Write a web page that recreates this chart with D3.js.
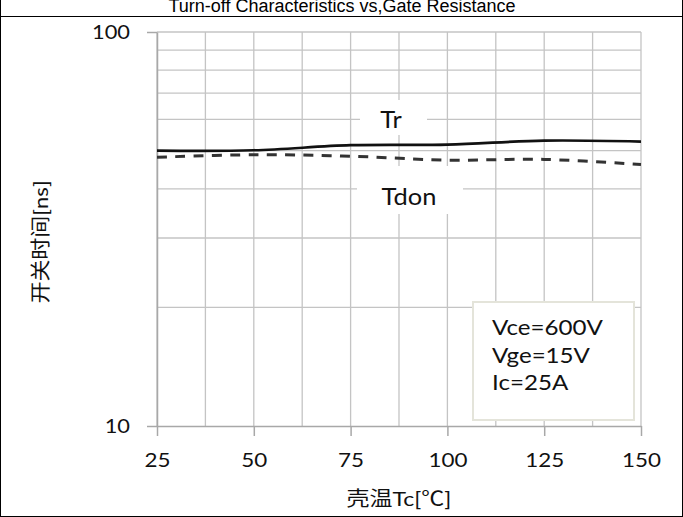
<!DOCTYPE html>
<html>
<head>
<meta charset="utf-8">
<script src="https://cdn.jsdelivr.net/npm/d3@7"></script>
<style>
  html, body { margin: 0; padding: 0; background: #fff; }
  svg { display: block; }
</style>
</head>
<body>
<svg id="chart" width="683" height="517"></svg>
<script>
// Case temperature (°C) and switching times (ns)
const temperatures = [25, 50, 75, 100, 125, 150];
const trValues     = [50.0, 50.1, 51.6, 51.8, 53.0, 52.7];
const tdonValues   = [48.1, 48.8, 48.4, 47.3, 47.5, 46.1];

const xTickValues = [25, 50, 75, 100, 125, 150];
const xGridValues = [25, 37.5, 50, 62.5, 75, 87.5, 100, 112.5, 125, 137.5, 150];
const yTickValues = [10, 100];
const yGridValues = [20, 30, 40, 50, 60, 70, 80, 90, 100];

const conditionLines = ["Vce=600V", "Vge=15V", "Ic=25A"];
const titleText = "Turn-off Characteristics vs,Gate Resistance";
const xAxisTitle = "壳温Tc[℃]";
const yAxisTitle = "开关时间[ns]";
const seriesLabels = ["Tr", "Tdon"];

const W = 683, H = 517;
const latin = "Lato, 'Noto Sans CJK SC', sans-serif";
const cjk = "Lato, 'Noto Sans CJK SC', sans-serif";

const svg = d3.select("#chart");

const x = d3.scaleLinear().domain([25, 150]).range([157, 641]);
const y = d3.scaleLog().domain([10, 100]).range([426, 32]);

// Frame and title strip
svg.append("rect").attr("x", 0.5).attr("y", -1).attr("width", W - 1).attr("height", H - 0.5 + 1)
  .attr("fill", "#fff").attr("stroke", "#000").attr("stroke-width", 1);
svg.append("line").attr("x1", 0).attr("x2", W).attr("y1", 16.5).attr("y2", 16.5)
  .attr("stroke", "#000").attr("stroke-width", 1);
svg.append("text").attr("x", 342).attr("y", 12).attr("text-anchor", "middle")
  .attr("font-family", "'Liberation Sans', Arial, sans-serif").attr("font-size", 18)
  .attr("fill", "#000").text(titleText);

// Grid
const grid = svg.append("g");
grid.selectAll("line.h").data(yGridValues).join("line")
  .attr("x1", x(25)).attr("x2", x(150))
  .attr("y1", d => y(d)).attr("y2", d => y(d))
  .attr("stroke", "#c4c4c4").attr("stroke-width", 1.3);
grid.selectAll("line.v").data(xGridValues).join("line")
  .attr("x1", d => x(d)).attr("x2", d => x(d))
  .attr("y1", y(100)).attr("y2", y(10))
  .attr("stroke", "#c4c4c4").attr("stroke-width", 1.3);

// Axes
const axisColor = "#a8a8a8";
const yAxis = svg.append("g").attr("transform", `translate(${x(25)},0)`)
  .call(d3.axisLeft(y).tickValues(yTickValues).tickSize(10).tickSizeOuter(0).tickFormat(d3.format("d")));
const xAxis = svg.append("g").attr("transform", `translate(0,${y(10)})`)
  .call(d3.axisBottom(x).tickValues(xTickValues).tickSize(10).tickSizeOuter(0).tickFormat(d3.format("d")));
[yAxis, xAxis].forEach(g => {
  g.select(".domain").attr("stroke", axisColor).attr("stroke-width", 1.5);
  g.selectAll(".tick line").attr("stroke", axisColor).attr("stroke-width", 1.5);
});
yAxis.selectAll(".tick text")
  .attr("x", 0).attr("dy", null)
  .attr("transform", "translate(-27,6.5) scale(1.18,1)")
  .attr("text-anchor", "end")
  .attr("font-family", latin).attr("font-size", 18.5).attr("fill", "#111");
xAxis.selectAll(".tick text")
  .attr("y", 0).attr("dy", null)
  .attr("transform", "translate(0,41) scale(1.18,1)")
  .attr("text-anchor", "middle")
  .attr("font-family", latin).attr("font-size", 19).attr("fill", "#111");

// Axis titles
svg.append("text")
  .attr("transform", "translate(399,506) scale(1.15,1)")
  .attr("text-anchor", "middle")
  .attr("font-family", cjk).attr("font-size", 20).attr("fill", "#111")
  .text(xAxisTitle);
svg.append("text")
  .attr("transform", "translate(48,242) rotate(-90) scale(1.1,1)")
  .attr("text-anchor", "middle")
  .attr("font-family", cjk).attr("font-size", 20).attr("fill", "#111")
  .text(yAxisTitle);

// Series curves
const line = d3.line().x((d, i) => x(temperatures[i])).y(d => y(d)).curve(d3.curveCatmullRom);
svg.append("path").datum(trValues).attr("d", line)
  .attr("fill", "none").attr("stroke", "#111").attr("stroke-width", 2.7);
svg.append("path").datum(tdonValues).attr("d", line)
  .attr("fill", "none").attr("stroke", "#333").attr("stroke-width", 3)
  .attr("stroke-dasharray", "10,8.3");

// Series labels with white backing
const labelSpecs = [
  { text: seriesLabels[0], box: [360, 100, 67, 35], cx: 391, base: 128 },
  { text: seriesLabels[1], box: [357, 166, 106, 48], cx: 409, base: 205 }
];
labelSpecs.forEach(s => {
  svg.append("rect").attr("x", s.box[0]).attr("y", s.box[1])
    .attr("width", s.box[2]).attr("height", s.box[3]).attr("fill", "#fff");
  svg.append("text")
    .attr("transform", `translate(${s.cx},${s.base}) scale(1.06,1)`)
    .attr("text-anchor", "middle")
    .attr("font-family", latin).attr("font-size", 24).attr("fill", "#111")
    .text(s.text);
});

// Test-condition box
svg.append("rect").attr("x", 473).attr("y", 302).attr("width", 161).attr("height", 118)
  .attr("fill", "#fff").attr("stroke", "#e4e4da").attr("stroke-width", 2);
const condBase = [335, 363, 390];
conditionLines.forEach((t, i) => {
  svg.append("text")
    .attr("transform", `translate(492,${condBase[i]}) scale(1.15,1)`)
    .attr("font-family", latin).attr("font-size", 21).attr("fill", "#111")
    .text(t);
});
</script>
</body>
</html>
